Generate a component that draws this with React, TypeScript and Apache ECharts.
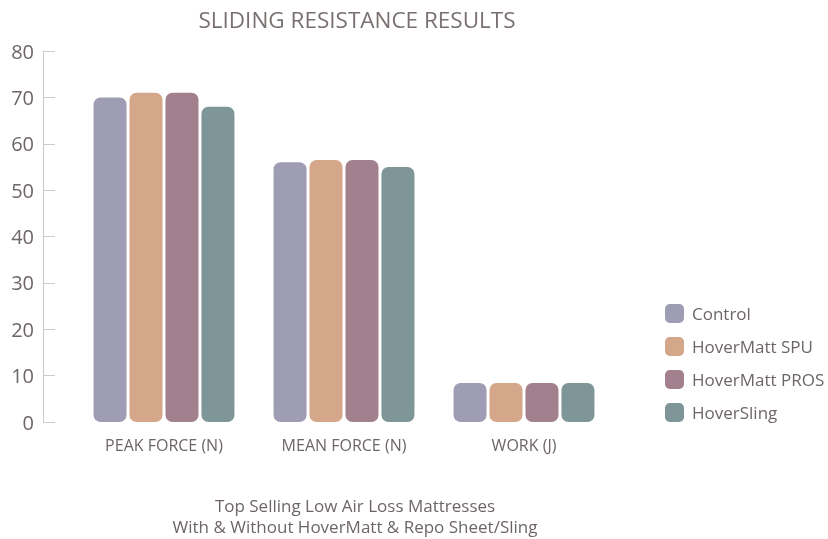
import React, { useEffect, useRef } from "react";
import * as echarts from "echarts";

const categories = ["PEAK FORCE (N)", "MEAN FORCE (N)", "WORK (J)"];
const seriesNames = ["Control", "HoverMatt SPU", "HoverMatt PROS", "HoverSling"];
const control = [70, 56, 8.4];
const hoverMattSPU = [71, 56.5, 8.4];
const hoverMattPROS = [71, 56.5, 8.4];
const hoverSling = [68, 55, 8.4];
const colors = ["#9e9db3", "#d4a68a", "#a3808d", "#7f9699"];
const yTicks = [0, 80, 10];

const FONT = "'Open Sans', Lato, sans-serif";
const TEXT = "#6e6666";

export default function App() {
  const ref = useRef<HTMLDivElement>(null);
  useEffect(() => {
    if (!ref.current) return;
    const chart = echarts.init(ref.current, undefined, { renderer: "svg" });
    const values = [control, hoverMattSPU, hoverMattPROS, hoverSling];
    chart.setOption({
      animation: false,
      textStyle: { fontFamily: FONT },
      title: [
        {
          text: "SLIDING RESISTANCE RESULTS",
          left: 352,
          top: 3,
          textAlign: "center",
          textStyle: { fontFamily: FONT, fontSize: 22.5, fontWeight: "normal", color: "#7a7070" },
        },
        {
          text: "Top Selling Low Air Loss Mattresses\nWith & Without HoverMatt & Repo Sheet/Sling",
          left: 350,
          top: 490,
          textAlign: "center",
          textStyle: { fontFamily: FONT, fontSize: 17, fontWeight: "normal", color: TEXT, lineHeight: 21 },
        },
      ],
      legend: {
        orient: "vertical",
        left: 660,
        top: 299,
        itemWidth: 19,
        itemHeight: 19,
        itemGap: 14,
        icon: "roundRect",
        data: seriesNames,
        textStyle: { fontFamily: FONT, fontSize: 17, color: TEXT, padding: [0, 0, 0, 3] },
      },
      grid: { left: 74, right: 214, top: 51, bottom: 117, containLabel: false },
      xAxis: {
        type: "category",
        data: categories,
        axisLine: { show: false },
        axisTick: { show: false },
        axisLabel: { fontFamily: FONT, fontSize: 16, color: TEXT, margin: 15 },
      },
      yAxis: {
        type: "value",
        min: yTicks[0],
        max: yTicks[1],
        interval: yTicks[2],
        offset: 31,
        splitLine: { show: false },
        axisLine: { show: true, lineStyle: { color: "#cfcaca", width: 1 } },
        axisTick: { show: true, inside: true, length: 12, lineStyle: { color: "#cfcaca" } },
        axisLabel: { fontFamily: FONT, fontSize: 20, color: TEXT, margin: 9 },
      },
      series: seriesNames.map((name, i) => ({
        name,
        type: "bar",
        data: values[i],
        barWidth: 33,
        barGap: "9%",
        itemStyle: { color: colors[i], borderRadius: 7 },
      })),
    });
    return () => chart.dispose();
  }, []);
  return (
    <div
      ref={ref}
      style={{ position: "fixed", left: 0, top: 0, width: 828, height: 539, overflow: "hidden" }}
    />
  );
}
